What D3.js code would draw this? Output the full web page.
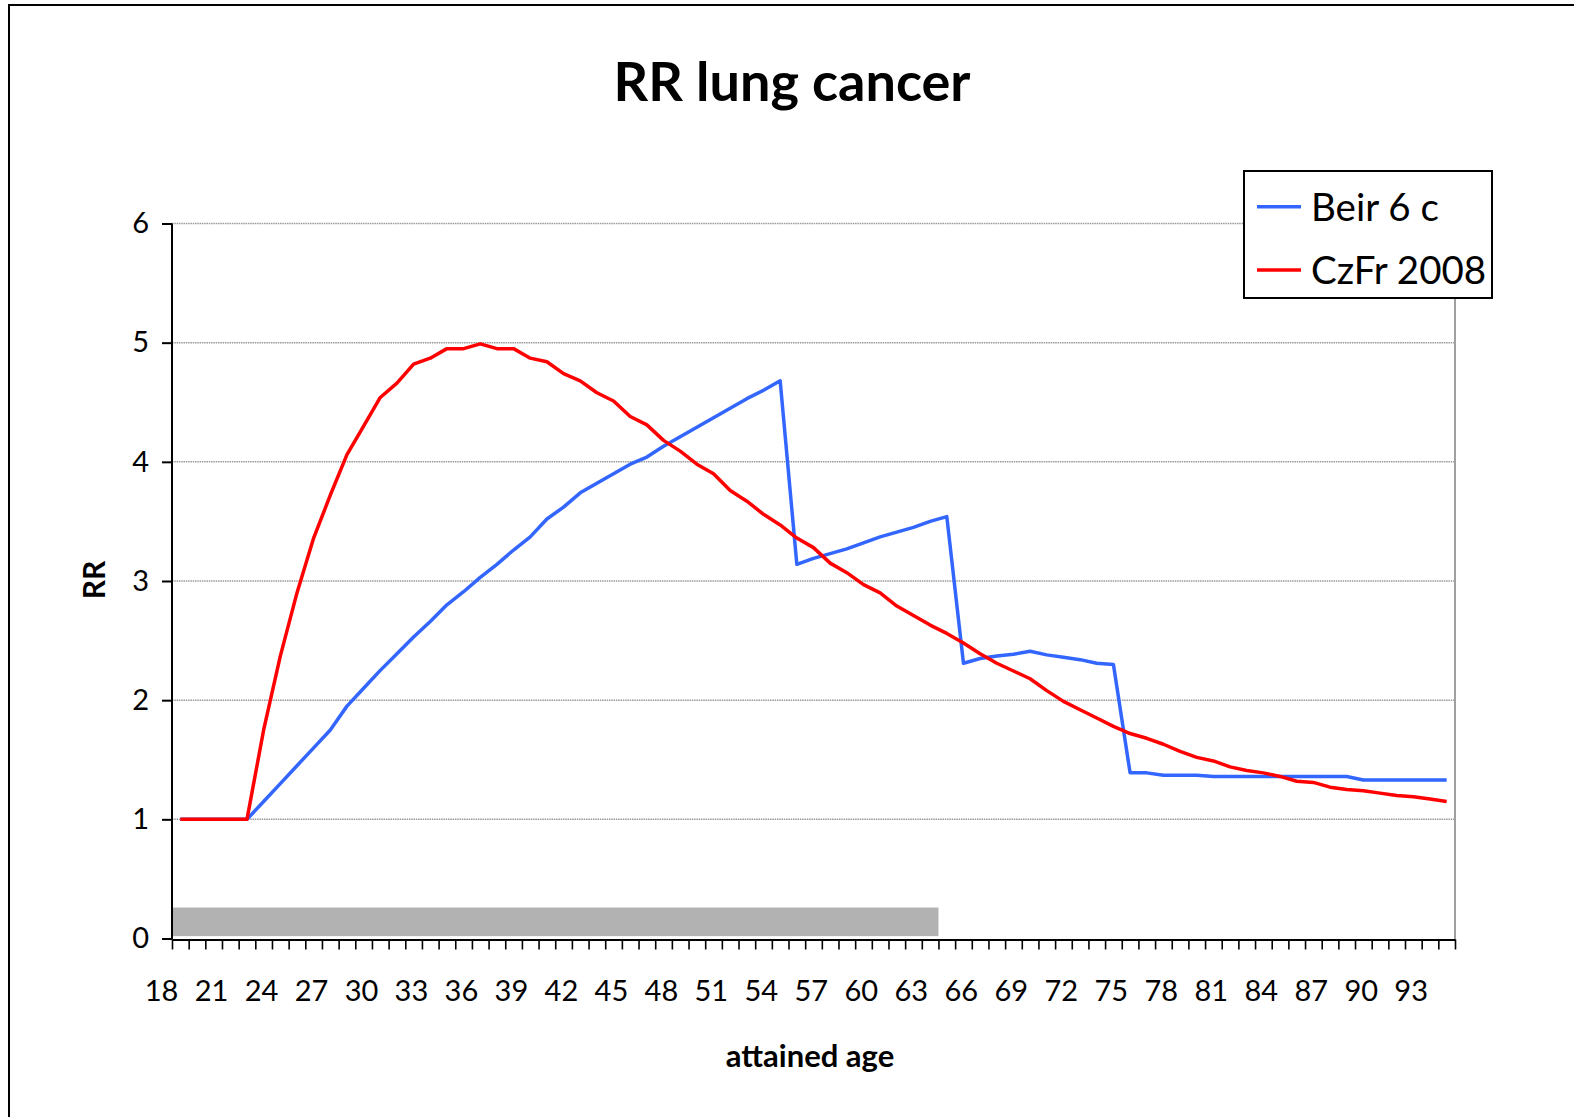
<!DOCTYPE html>
<html>
<head>
<meta charset="utf-8">
<script src="https://cdn.jsdelivr.net/npm/d3@7/dist/d3.min.js"></script>
<style>
  html, body { margin: 0; padding: 0; background: #fff; }
  svg { display: block; }
  text { font-family: Lato, "Open Sans", sans-serif; fill: #000; }
</style>
</head>
<body>
<svg id="chart" width="1574" height="1117"></svg>
<script>
// ---- data ----
const ages = d3.range(18, 95); // 18 .. 94
const tickLabels = d3.range(18, 95, 3); // 18, 21, ..., 93
const seriesNames = ["Beir 6 c", "CzFr 2008"];
const beir6c = [
  1, 1, 1, 1, 1, 1.15, 1.30, 1.45, 1.60, 1.75,          // 18-27
  1.95, 2.10, 2.25, 2.39, 2.53, 2.66, 2.80, 2.91, 3.03, 3.14, // 28-37
  3.26, 3.37, 3.52, 3.62, 3.74, 3.82, 3.90, 3.98, 4.04, 4.13, // 38-47
  4.21, 4.29, 4.37, 4.45, 4.53, 4.60, 4.68, 3.14, 3.19, 3.23, // 48-57
  3.27, 3.32, 3.37, 3.41, 3.45, 3.50, 3.54, 2.31, 2.35, 2.37, // 58-67
  2.385, 2.41, 2.38, 2.36, 2.34, 2.31, 2.30, 1.39, 1.39, 1.37, // 68-77
  1.37, 1.37, 1.36, 1.36, 1.36, 1.36, 1.36, 1.36, 1.36, 1.36, // 78-87
  1.36, 1.33, 1.33, 1.33, 1.33, 1.33, 1.33                    // 88-94
];
const czfr2008 = [
  1, 1, 1, 1, 1, 1.75, 2.37, 2.90, 3.36, 3.72,          // 18-27
  4.06, 4.30, 4.54, 4.66, 4.82, 4.87, 4.95, 4.95, 4.99, 4.95, // 28-37
  4.95, 4.87, 4.84, 4.74, 4.68, 4.58, 4.51, 4.38, 4.31, 4.18, // 38-47
  4.09, 3.98, 3.90, 3.76, 3.67, 3.56, 3.47, 3.36, 3.28, 3.15, // 48-57
  3.07, 2.97, 2.90, 2.79, 2.71, 2.63, 2.56, 2.48, 2.39, 2.31, // 58-67
  2.245, 2.18, 2.08, 1.99, 1.92, 1.85, 1.78, 1.72, 1.68, 1.63, // 68-77
  1.57, 1.52, 1.49, 1.44, 1.41, 1.39, 1.36, 1.32, 1.31, 1.27, // 78-87
  1.25, 1.24, 1.22, 1.20, 1.19, 1.17, 1.15                    // 88-94
];
const yTicks = [0, 1, 2, 3, 4, 5, 6];
const exposureAges = [18, 63];      // shaded exposure period
const exposureRR = [0.02, 0.26];    // vertical extent of the shaded band

// ---- layout ----
const svg = d3.select("#chart");
const plotL = 172, plotR = 1455, plotT = 223.5, plotB = 938.5;

const x = d3.scaleLinear().domain([18, 95]).range([plotL, plotR]);
const y = d3.scaleLinear().domain([0, 6]).range([plotB, plotT]);

// outer frame (only top/left visible)
svg.append("rect")
  .attr("x", 9).attr("y", 5).attr("width", 1600).attr("height", 1200)
  .attr("fill", "none").attr("stroke", "#000").attr("stroke-width", 2);

// title
svg.append("text")
  .attr("x", 792).attr("y", 101)
  .attr("text-anchor", "middle")
  .style("font-size", "54px").style("font-weight", "bold")
  .text("RR lung cancer");

// gridlines
svg.append("g").selectAll("line")
  .data(yTicks.filter(d => d > 0))
  .join("line")
  .attr("x1", plotL).attr("x2", plotR)
  .attr("y1", d => y(d)).attr("y2", d => y(d))
  .attr("stroke", "#9a9a9a").attr("stroke-width", 1.5)
  .attr("stroke-dasharray", "1.5 0.8");

// plot area right border
svg.append("line")
  .attr("x1", plotR).attr("x2", plotR).attr("y1", plotT).attr("y2", y(0) + 1)
  .attr("stroke", "#a0a0a0").attr("stroke-width", 2);

// exposure band
svg.append("rect")
  .attr("x", x(exposureAges[0]))
  .attr("width", x(exposureAges[1] + 1) - x(exposureAges[0]))
  .attr("y", y(exposureRR[1]))
  .attr("height", y(exposureRR[0]) - y(exposureRR[1]))
  .attr("fill", "#b2b2b2");

// y axis
const yAxis = svg.append("g")
  .attr("transform", `translate(${plotL},0)`)
  .call(d3.axisLeft(y).tickValues(yTicks).tickSize(10).tickPadding(13).tickFormat(d3.format("d")));
yAxis.select(".domain").attr("stroke", "#000").attr("stroke-width", 2)
  .attr("d", `M0,${plotT}V${y(0) + 1}`);
yAxis.selectAll(".tick line").attr("stroke", "#000").attr("stroke-width", 2);
yAxis.selectAll(".tick text").style("font-size", "29px").style("font-family", "Lato, sans-serif");

// x axis ticks
const xAxis = svg.append("g")
  .attr("transform", `translate(0,${y(0) + 1})`)
  .call(d3.axisBottom(x).tickValues(d3.range(18, 96)).tickSize(10).tickSizeOuter(0).tickFormat(""));
xAxis.select(".domain").attr("stroke", "#000").attr("stroke-width", 2);
xAxis.selectAll(".tick line").attr("stroke", "#000").attr("stroke-width", 1.6);

// x axis labels
const xLab = svg.append("g")
  .attr("transform", `translate(-11,${y(0) + 1})`)
  .call(d3.axisBottom(x).tickValues(tickLabels).tickSize(0).tickFormat(d3.format("d")));
xLab.select(".domain").remove();
xLab.selectAll(".tick text")
  .attr("y", 61.2).attr("dy", 0)
  .style("font-size", "29px").style("font-family", "Lato, sans-serif");

// axis titles
svg.append("text")
  .attr("x", 810).attr("y", 1067.3)
  .attr("text-anchor", "middle")
  .style("font-size", "31px").style("font-weight", "bold")
  .text("attained age");
svg.append("text")
  .attr("transform", "translate(105,580) rotate(-90)")
  .attr("text-anchor", "middle")
  .style("font-size", "30px").style("font-weight", "bold")
  .text("RR");

// lines
const colors = ["#3366ff", "#ff0000"];
const seriesData = [beir6c, czfr2008];
const line = d3.line()
  .x((d, i) => x(ages[i] + 0.5))
  .y(d => y(d));
svg.append("g").selectAll("path")
  .data(seriesData)
  .join("path")
  .attr("d", d => line(d))
  .attr("fill", "none")
  .attr("stroke", (d, i) => colors[i])
  .attr("stroke-width", 3.5)
  .attr("stroke-linejoin", "round");

// legend
const lg = svg.append("g");
lg.append("rect")
  .attr("x", 1244).attr("y", 171).attr("width", 248).attr("height", 127)
  .attr("fill", "#fff").attr("stroke", "#000").attr("stroke-width", 2);
const legendRows = [206.7, 270];
seriesNames.forEach((name, i) => {
  lg.append("line")
    .attr("x1", 1257).attr("x2", 1301)
    .attr("y1", legendRows[i]).attr("y2", legendRows[i])
    .attr("stroke", colors[i]).attr("stroke-width", 3.4);
  lg.append("text")
    .attr("x", 1311).attr("y", legendRows[i] + 14)
    .style("font-size", "38.5px")
    .text(name);
});
</script>
</body>
</html>
